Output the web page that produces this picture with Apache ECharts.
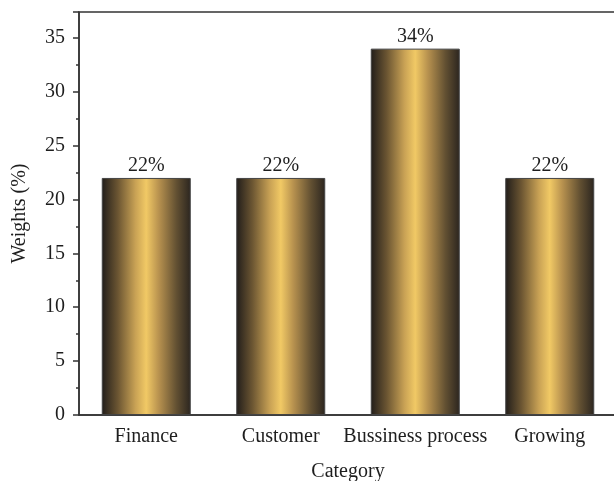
<!DOCTYPE html>
<html>
<head>
<meta charset="utf-8">
<style>
  html, body { margin: 0; padding: 0; background: #fff; }
  #chart { width: 614px; height: 481px; }
</style>
<script src="https://cdn.jsdelivr.net/npm/echarts@6/dist/echarts.min.js"></script>
</head>
<body>
<div id="chart"></div>
<script>
// Category weights (%)
const categories = ['Finance', 'Customer', 'Bussiness process', 'Growing'];
const weights = [22, 22, 34, 22];
const yTicks = [0, 5, 10, 15, 20, 25, 30, 35];

const FONT = '"Liberation Serif", "Times New Roman", serif';
const INK = '#1e1e1e';
const AXIS = '#333';

// Metallic gold fill: dark edges, bright centre
const goldFill = new echarts.graphic.LinearGradient(0, 0, 1, 0, [
  { offset: 0.0, color: '#211d1a' },
  { offset: 0.18, color: '#6b5532' },
  { offset: 0.38, color: '#c9a255' },
  { offset: 0.5, color: '#f1c965' },
  { offset: 0.64, color: '#b8924f' },
  { offset: 0.84, color: '#625032' },
  { offset: 1.0, color: '#2b251f' }
]);

const chart = echarts.init(document.getElementById('chart'), null, { renderer: 'canvas' });

chart.setOption({
  animation: false,
  grid: {
    left: 79, right: -3, top: 12, bottom: 66,
    outerBoundsMode: 'none',
    containLabel: false,
    show: true, borderColor: AXIS, borderWidth: 1.5, backgroundColor: 'transparent'
  },
  xAxis: [
    {
      type: 'category',
      data: categories,
      name: 'Category',
      nameLocation: 'middle',
      nameGap: 47,
      nameTextStyle: { fontFamily: FONT, fontSize: 20, color: INK },
      axisLine: { lineStyle: { color: AXIS, width: 1.5 } },
      axisTick: { alignWithLabel: true, length: 7, lineStyle: { color: AXIS, width: 1.5 } },
      axisLabel: { fontFamily: FONT, fontSize: 20, color: INK, margin: 12, interval: 0 }
    },
    {
      // short ticks on the band boundaries
      type: 'category',
      data: categories,
      position: 'bottom',
      axisLine: { show: false },
      axisTick: { length: 4, lineStyle: { color: AXIS, width: 1.5 } },
      axisLabel: { show: false }
    }
  ],
  yAxis: {
    type: 'value',
    min: 0,
    max: 37.4,
    interval: 5,
    name: 'Weights (%)',
    nameLocation: 'middle',
    nameGap: 49,
    nameTextStyle: { fontFamily: FONT, fontSize: 20, color: INK },
    axisLine: { show: true, lineStyle: { color: AXIS, width: 1.5 } },
    axisTick: { show: true, length: 6, lineStyle: { color: AXIS, width: 1.5 } },
    minorTick: { show: true, splitNumber: 2, length: 3, lineStyle: { color: AXIS, width: 1.5 } },
    splitLine: { show: false },
    axisLabel: {
      fontFamily: FONT, fontSize: 20, color: INK, margin: 14,
      formatter: v => (yTicks.includes(v) ? String(v) : '')
    }
  },
  series: [{
    type: 'bar',
    data: weights,
    barWidth: 89,
    itemStyle: { color: goldFill, borderColor: '#444', borderWidth: 1 },
    label: {
      show: true,
      position: 'top',
      distance: 2,
      formatter: p => p.value + '%',
      fontFamily: FONT, fontSize: 20, color: INK
    }
  }]
});
</script>
</body>
</html>
